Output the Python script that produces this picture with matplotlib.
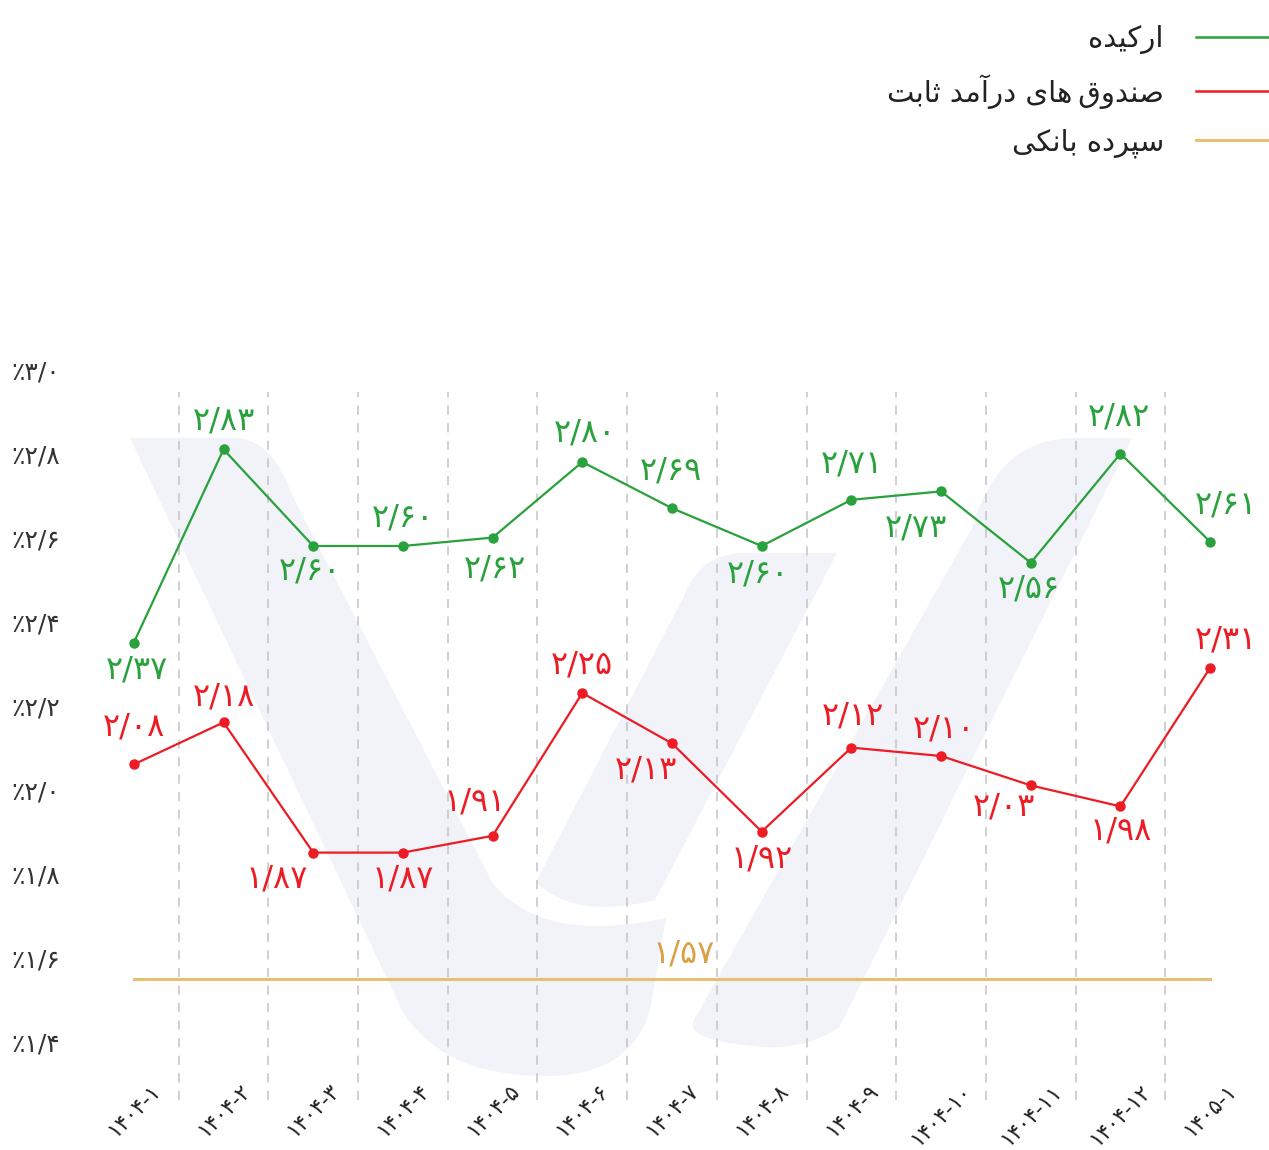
import matplotlib
matplotlib.use('Agg')
import matplotlib.pyplot as plt
import matplotlib.transforms as mtrans
from matplotlib.patches import Polygon
from matplotlib.lines import Line2D
import numpy as np

plt.rcParams['font.family'] = ['DejaVu Sans']

# ---------------- data ----------------
months = ['1404-1', '1404-2', '1404-3', '1404-4', '1404-5', '1404-6', '1404-7',
          '1404-8', '1404-9', '1404-10', '1404-11', '1404-12', '1405-1']
orchid = [2.37, 2.83, 2.60, 2.60, 2.62, 2.80, 2.69, 2.60, 2.71, 2.73, 2.56, 2.82, 2.61]
fixed_income = [2.08, 2.18, 1.87, 1.87, 1.91, 2.25, 2.13, 1.92, 2.12, 2.10, 2.03, 1.98, 2.31]
bank_deposit = [1.57] * 13
y_ticks = [1.4, 1.6, 1.8, 2.0, 2.2, 2.4, 2.6, 2.8, 3.0]

# legend labels (Persian, pre-shaped presentation forms in visual order)
name_orchid = '\uFEE9\uFEAA\uFBFF\uFB90\uFEAD\uFE8D'                       # ارکیده
name_fixed = ('\uFE96\uFE91\uFE8E\uFE9B \uFEAA\uFEE3\uFE81\uFEAD\uFEA9 '
              '\uFBFC\uFE8E\uFEEB\u2009\uFED5\uFEED\uFEAA\uFEE8\uFEBB')      # صندوق‌های درآمد ثابت
name_bank = '\uFBFD\uFB91\uFEE7\uFE8E\uFE91 \uFEE9\uFEA9\uFEAE\uFB59\uFEB3'  # سپرده بانکی

FA = str.maketrans('0123456789.', '۰۱۲۳۴۵۶۷۸۹/')
def fa(s):
    return s.translate(FA)

# label placement (style): vertical offset px (negative = above), horizontal shift px
g_dy = [27, -28, 25, -28, 31, -29, -37, 28, -36, 37, 26, -37, -37]
g_dx = [3, 0, -3, 0, 2, 3, -1, -4, 1, -25, -2, -2, 16]
r_dy = [-37, -25, 26, 26, -34, -28, 27, 27, -32, -27, 22, 25, -28]
r_dx = [0, 0, -36, 0, -18, 0, -26, 0, 2, 3, -27, 0, 16]

C_GREEN = '#29a13c'
C_RED = '#ed1c24'
C_GOLD = '#e6c072'
C_GOLD_T = '#dba046'
C_WM = '#f2f3f8'

W, H = 1269, 1150
fig = plt.figure(figsize=(W / 100, H / 100), dpi=100)

ax_top_px, ax_bot_px = 372, 1085
ax_left_px, ax_right_px = 89, 1255
ax = fig.add_axes([ax_left_px / W, 1 - ax_bot_px / H,
                   (ax_right_px - ax_left_px) / W, (ax_bot_px - ax_top_px) / H])
ax.patch.set_alpha(0)

# y mapping: 3.0 at 378 px, 420 px per unit
ppu = 420.0
y_top = 3.0 + (378 - ax_top_px) / ppu
y_bot = 3.0 - (ax_bot_px - 378) / ppu
ax.set_ylim(y_bot, y_top)
ax.set_xlim(-0.5, len(months) - 0.5)

# ---------------- watermark (decorative) ----------------
px2fig = mtrans.Affine2D().scale(1 / W, -1 / H).translate(0, 1) + fig.transFigure

def qb(p0, c, p2, n=14):
    t = np.linspace(0, 1, n)[:, None]
    p0, c, p2 = map(np.array, (p0, c, p2))
    return list((1 - t) ** 2 * p0 + 2 * (1 - t) * t * c + t ** 2 * p2)

s1 = ([(130, 438), (237, 438)] + qb((237, 438), (272, 440), (292, 495)) +
      [(492, 882)] + qb((492, 882), (540, 945), (666, 918)) +
      [(650, 1010)] + qb((650, 1010), (630, 1078), (540, 1076)) +
      qb((540, 1076), (440, 1074), (402, 1010)))
s2 = ([(536, 882), (684, 596)] + qb((684, 596), (700, 553), (745, 553)) +
      [(837, 553), (655, 900)] + qb((655, 900), (575, 920), (536, 882)))
s3 = ([(1132, 438), (839, 1028)] + qb((839, 1028), (800, 1052), (755, 1046)) +
      qb((755, 1046), (684, 1040), (694, 1020)) + [(972, 528)] +
      qb((972, 528), (998, 438), (1075, 438)))
for s in (s1, s2, s3):
    ax.add_patch(Polygon(s, closed=True, transform=px2fig, facecolor=C_WM,
                         edgecolor='none', zorder=0, clip_on=False))

# ---------------- gridlines between categories ----------------
gy0 = -(1100 - ax_bot_px) / (ax_bot_px - ax_top_px)
gy1 = (ax_bot_px - 392) / (ax_bot_px - ax_top_px)
for i in range(len(months) - 1):
    ax.axvline(i + 0.5, ymin=gy0, ymax=gy1, color='#c4c4c4', lw=1.1,
               linestyle=(0, (6, 5.5)), zorder=1, clip_on=False)

x = np.arange(len(months))
ax.plot(x, bank_deposit, color=C_GOLD, lw=2.2, zorder=2)
ax.plot(x, fixed_income, color=C_RED, lw=1.6, marker='o', ms=6.5, zorder=3)
ax.plot(x, orchid, color=C_GREEN, lw=1.6, marker='o', ms=6.5, zorder=3)

def lab(xi, v, dx, dy, color):
    ax.annotate(fa(f'{v:.2f}'), (xi, v), xytext=(dx * 0.72, -dy * 0.72),
                textcoords='offset points', ha='center', va='center',
                fontsize=23, color=color, zorder=4)

for i, v in enumerate(orchid):
    lab(i, v, g_dx[i], g_dy[i], C_GREEN)
for i, v in enumerate(fixed_income):
    lab(i, v, r_dx[i], r_dy[i], C_RED)
lab(6, bank_deposit[6], 12, -25, C_GOLD_T)

# ---------------- axes styling ----------------
for sp in ax.spines.values():
    sp.set_visible(False)
ax.set_yticks(y_ticks)
ax.set_yticklabels(['٪' + fa(f'{t:.1f}') for t in y_ticks], fontsize=18, color='#333333')
ax.set_xticks(x)
ax.set_xticklabels([fa(m) for m in months], rotation=45, ha='center', va='top',
                   fontsize=15.5, color='#222222')
ax.tick_params(axis='both', length=0)
ax.tick_params(axis='y', pad=21)
ax.tick_params(axis='x', pad=-3)
off = mtrans.ScaledTranslation(0, 8 / 100, fig.dpi_scale_trans)
for t in ax.get_yticklabels():
    t.set_transform(t.get_transform() + off)

# ---------------- legend ----------------
handles = [Line2D([], [], color=C_GREEN, lw=1.8),
           Line2D([], [], color=C_RED, lw=1.8),
           Line2D([], [], color=C_GOLD, lw=2.2)]
fig.legend(handles, [name_orchid, name_fixed, name_bank], loc='upper right',
           bbox_to_anchor=(1.0, 1.0 - 25 / H), frameon=False, markerfirst=False,
           fontsize=21, handlelength=2.5, handletextpad=1.1, labelspacing=0.68,
           borderaxespad=0, borderpad=0, labelcolor='#222222')

fig.savefig('out.png', dpi=100)
